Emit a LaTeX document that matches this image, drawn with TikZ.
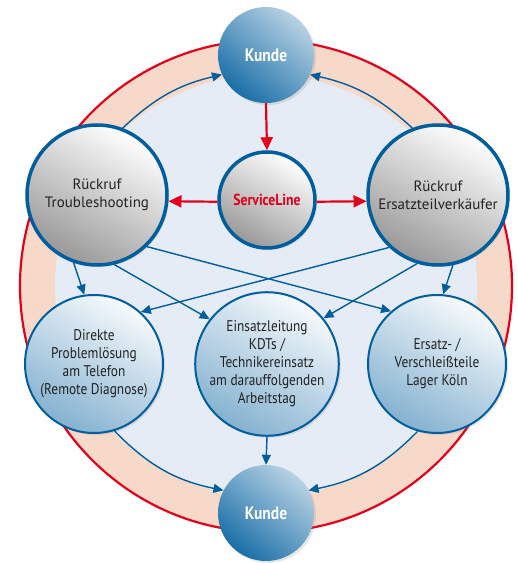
\documentclass[tikz,border=0pt]{standalone}
\usepackage{fontspec}
\setmainfont{PT Sans}[FakeStretch=0.86]
\newfontfamily\greyfont{PT Sans}
\usetikzlibrary{arrows.meta,shadows,positioning}
\definecolor{cred}{HTML}{E3001B}
\definecolor{cpink}{HTML}{F7D9CA}
\definecolor{cdisk}{HTML}{E6ECF5}
\definecolor{cblue}{HTML}{005E9E}
\definecolor{ctxt}{HTML}{222222}
\tikzset{
  shad/.style={drop shadow={opacity=0.2,shadow xshift=2pt,shadow yshift=-2pt}},
  kunde/.style={circle,minimum size=96pt,inner sep=0pt,shad,
    top color=white!72!cblue,bottom color=cblue!90,shading angle=-40,
    text=white,font=\bfseries\fontsize{18}{20}\selectfont},
  greynode/.style={circle,minimum size=140pt,inner sep=0pt,shad,draw=cblue,line width=3.5pt,
    top color=white,bottom color=black!40,shading angle=-30,
    text=ctxt,align=center,font=\greyfont\fontsize{15}{18}\selectfont},
  svcnode/.style={greynode,minimum size=96pt,text=cred,font=\bfseries\fontsize{16}{18}\selectfont},
  bluenode/.style={circle,minimum size=138pt,inner sep=0pt,shad,draw=cblue,line width=2pt,
    top color=white!97!cblue,bottom color=white!52!cblue,shading angle=-30,
    text=ctxt,align=center,font=\fontsize{15.5}{18}\selectfont},
  barrow/.style={draw=cblue,line width=1.4pt,-{Triangle[length=10pt,width=9pt]}},
  rarrow/.style={draw=cred,line width=2.2pt,-{Triangle[length=13pt,width=12pt]}}
}
\begin{document}
\begin{tikzpicture}[x=1pt,y=1pt]
\useasboundingbox (0,0) rectangle (518,563);
% background rings
\fill[cpink] (266,277) circle (246pt);
\draw[cred,line width=2.2pt] (266,277) circle (246pt);
\fill[cdisk] (266,277) circle (211pt);
% nodes
\node[kunde] (kt) at (266,508) {Kunde};
\node[kunde] (kb) at (266,50) {Kunde};
\node[svcnode] (s) at (267,363) {ServiceLine};
\node[greynode] (t) at (97,368) {Rückruf\\Troubleshooting};
\node[greynode] (v) at (438,368) {Rückruf\\Ersatzteilverkäufer};
\node[bluenode] (d) at (94,199) {Direkte\\Problemlösung\\am Telefon\\(Remote Diagnose)};
\node[bluenode] (e) at (267,199) {Einsatzleitung\\KDTs /\\Technikereinsatz\\am darauffolgenden\\Arbeitstag};
\node[bluenode] (l) at (437,199) {Ersatz- /\\Verschleißteile\\Lager Köln};
% red arrows
\draw[rarrow] (kt.south) -- (s.north);
\draw[rarrow] (s.182) -- (t.-5);
\draw[rarrow] (s.-2) -- (v.185);
% blue arrows
\draw[barrow] (t.69) to[bend left=15] (kt.204);
\draw[barrow] (v.111) to[bend right=15] (kt.-24);
\draw[barrow] (d.-73) to[bend right=17] (kb.152);
\draw[barrow] (l.-106) to[bend left=17] (kb.28);
\draw[barrow] (e.south) -- (kb.north);
\draw[barrow] (t.-109) -- (d.98);
\draw[barrow] (t.-76) -- (e.142);
\draw[barrow] (t.-46) -- (l.131);
\draw[barrow] (v.-78) -- (l.85);
\draw[barrow] (v.-107) -- (e.39);
\draw[barrow] (v.-133) -- (d.48);
\end{tikzpicture}
\end{document}
